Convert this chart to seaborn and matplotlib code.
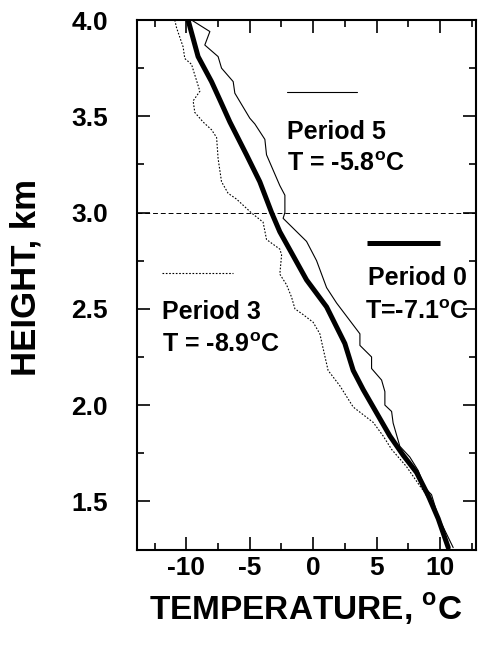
import matplotlib
matplotlib.use("Agg")
import matplotlib.pyplot as plt
import seaborn as sns
import pandas as pd
from matplotlib.ticker import MultipleLocator

sns.set_theme(style="ticks")
plt.rcParams['font.family'] = ['Liberation Sans', 'DejaVu Sans']
plt.rcParams['font.weight'] = 'bold'
plt.rcParams['text.color'] = 'black'
plt.rcParams['axes.labelcolor'] = 'black'
plt.rcParams['xtick.color'] = 'black'
plt.rcParams['ytick.color'] = 'black'
plt.rcParams['mathtext.fontset'] = 'custom'
plt.rcParams['mathtext.rm'] = 'Liberation Sans:bold'
plt.rcParams['mathtext.bf'] = 'Liberation Sans:bold'
plt.rcParams['axes.unicode_minus'] = False

# ---- data ----
height0 = [4.0, 3.81, 3.68, 3.585, 3.47, 3.30, 3.16, 3.0, 2.90, 2.79, 2.65, 2.51,
           2.32, 2.18, 2.08, 1.96, 1.84, 1.74, 1.65, 1.53, 1.41, 1.26]
temp0 = [-9.87, -9.08, -8.02, -7.36, -6.57, -5.26, -4.21, -3.28, -2.63, -1.70, -0.52, 1.06,
         2.50, 3.16, 3.95, 5.0, 6.05, 7.10, 8.16, 9.08, 9.87, 10.66]

height5 = [4.0, 3.94, 3.87, 3.81, 3.75, 3.68, 3.62, 3.49, 3.46, 3.38, 3.30, 3.14, 3.09,
           3.0, 2.97, 2.85, 2.75, 2.61, 2.53, 2.37, 2.31, 2.25, 2.19, 2.13, 2.07, 2.0,
           1.967, 1.907, 1.786, 1.73, 1.66, 1.57, 1.535, 1.42, 1.26]
temp5 = [-9.6, -8.15, -8.55, -7.5, -7.23, -6.31, -6.18, -5.0, -4.6, -3.81, -3.68, -2.63, -2.23,
         -2.23, -2.37, -0.52, 0.27, 1.06, 1.85, 3.69, 3.69, 4.61, 4.61, 5.40, 5.66, 5.66,
         6.19, 6.31, 6.84, 7.63, 8.29, 8.82, 9.34, 9.87, 11.05]

height3 = [4.0, 3.96, 3.86, 3.80, 3.77, 3.66, 3.63, 3.58, 3.52, 3.47, 3.43, 3.39, 3.28,
           3.16, 3.10, 3.07, 3.0, 2.95, 2.86, 2.81, 2.78, 2.68, 2.625, 2.56, 2.50, 2.47,
           2.43, 2.37, 2.29, 2.18, 2.10, 1.99, 1.91, 1.84, 1.77, 1.68, 1.58, 1.545,
           1.41, 1.26]
temp3 = [-10.92, -10.78, -10.26, -10.13, -9.6, -9.08, -8.94, -9.47, -9.34, -8.68, -8.02,
         -7.62, -7.5, -7.23, -6.71, -6.05, -4.9, -3.95, -3.68, -2.63, -2.49, -2.63, -2.10,
         -1.70, -1.44, -0.79, 0.0, 0.53, 0.8, 1.18, 2.11, 3.16, 4.74, 5.52, 6.19, 7.37,
         8.42, 8.82, 9.87, 10.66]

ref_height = 3.0
x_ticks = [-10, -5, 0, 5, 10]
x_ticklabels = ["-10", "-5", "0", "5", "10"]
y_ticks = [1.5, 2.0, 2.5, 3.0, 3.5, 4.0]
y_ticklabels = ["1.5", "2.0", "2.5", "3.0", "3.5", "4.0"]

fig = plt.figure(figsize=(4.88, 6.6), dpi=100)
ax = fig.add_axes([137/488, 1 - 549.5/660, (476 - 137)/488, (549.5 - 20)/660])

df0 = pd.DataFrame({"T": temp0, "H": height0})
df5 = pd.DataFrame({"T": temp5, "H": height5})
df3 = pd.DataFrame({"T": temp3, "H": height3})

sns.lineplot(data=df5, x="T", y="H", sort=False, estimator=None, color="black",
             linewidth=0.8, ax=ax)
sns.lineplot(data=df3, x="T", y="H", sort=False, estimator=None, color="black",
             linewidth=0.8, linestyle=(0, (1.5, 1.5)), ax=ax)
sns.lineplot(data=df0, x="T", y="H", sort=False, estimator=None, color="black",
             linewidth=3.6, ax=ax)

ax.axhline(ref_height, color="black", linewidth=0.7, linestyle=(0, (5, 3)))

# legend-like annotations
ax.plot([-2.1, 3.45], [3.626, 3.626], color="black", linewidth=0.8)
ax.plot([4.23, 10.0], [2.843, 2.843], color="black", linewidth=3.6, solid_capstyle='butt')
ax.plot([-11.94, -6.34], [2.687, 2.687], color="black", linewidth=0.8, linestyle=(0, (1.5, 1.5)))

fs = 18
ax.text(-2.1, 3.42, "Period 5", fontsize=fs, fontweight='bold', va='center', ha='left')
ax.text(-2.1, 3.253, r"T = -5.8$^{\rm o}$C", fontsize=fs, fontweight='bold', va='center', ha='left')
ax.text(4.32, 2.66, "Period 0", fontsize=fs, fontweight='bold', va='center', ha='left')
ax.text(4.08, 2.485, r"T=-7.1$^{\rm o}$C", fontsize=fs, fontweight='bold', va='center', ha='left')
ax.text(-11.94, 2.485, "Period 3", fontsize=fs, fontweight='bold', va='center', ha='left')
ax.text(-11.94, 2.313, r"T = -8.9$^{\rm o}$C", fontsize=fs, fontweight='bold', va='center', ha='left')

ax.set_xlim(-13.9, 12.85)
ax.set_ylim(1.25, 4.0)
ax.xaxis.set_minor_locator(MultipleLocator(2.5))
ax.yaxis.set_minor_locator(MultipleLocator(0.25))
ax.set_yticks(y_ticks)
ax.set_yticklabels(y_ticklabels)
ax.set_xticks(x_ticks)
ax.set_xticklabels(x_ticklabels)

ax.tick_params(which='both', direction='in', top=True, right=True, width=1.2, colors='black')
ax.tick_params(which='major', length=9.5)
ax.tick_params(which='minor', length=5)
ax.tick_params(axis='x', which='major', labelsize=19, pad=5)
ax.tick_params(axis='y', which='major', labelsize=19, pad=21)
for lab in ax.get_xticklabels() + ax.get_yticklabels():
    lab.set_fontweight('bold')
for s in ax.spines.values():
    s.set_linewidth(1.5)
    s.set_color('black')

ax.set_xlabel(r"TEMPERATURE, $^{\rm o}$C", fontsize=24, fontweight='bold')
ax.set_ylabel("HEIGHT, km", fontsize=25, fontweight='bold')
ax.xaxis.set_label_coords(0.496, -0.078)
ax.yaxis.set_label_coords(-0.28, 0.514)

fig.savefig("out.png", dpi=100)
